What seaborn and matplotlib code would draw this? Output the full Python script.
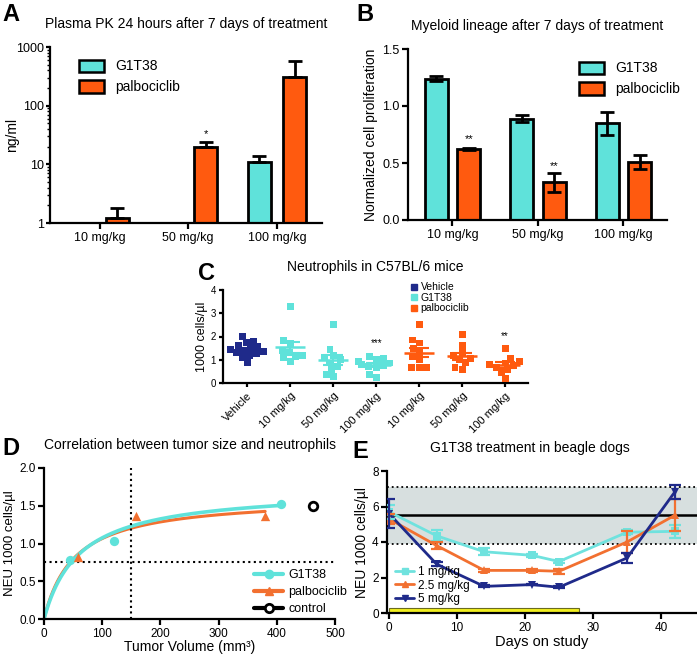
import numpy as np
import pandas as pd
import matplotlib
matplotlib.use("Agg")
import matplotlib.pyplot as plt
import seaborn as sns
from matplotlib.patches import Patch
from matplotlib.lines import Line2D
from matplotlib.ticker import LogLocator, NullFormatter

# ─────────────────────────────────────────────
# Data
# ─────────────────────────────────────────────
DOSES = ["10 mg/kg", "50 mg/kg", "100 mg/kg"]
DRUGS = ["G1T38", "palbociclib"]

# A - plasma PK (ng/ml), mean and upper SEM
PK_G1T38 = [np.nan, np.nan, 11.0]
PK_G1T38_ERR = [np.nan, np.nan, 3.0]
PK_PALBO = [1.2, 20.0, 310.0]
PK_PALBO_ERR = [0.6, 4.0, 260.0]

# B - myeloid proliferation
MY_G1T38 = [1.24, 0.89, 0.85]
MY_G1T38_ERR = [0.02, 0.03, 0.10]
MY_PALBO = [0.62, 0.33, 0.51]
MY_PALBO_ERR = [0.01, 0.08, 0.06]

# C - neutrophils per mouse (1000 cells/ul)
C_KEYS = ["veh", "g10", "g50", "g100", "p10", "p50", "p100"]
C_LABELS = ["Vehicle", "10 mg/kg", "50 mg/kg", "100 mg/kg",
            "10 mg/kg", "50 mg/kg", "100 mg/kg"]
C_DRUG = ["Vehicle", "G1T38", "G1T38", "G1T38",
          "palbociclib", "palbociclib", "palbociclib"]
NEU_VEH = [2.0, 1.8, 1.75, 1.6, 1.55, 1.5, 1.45, 1.4, 1.35, 1.3, 1.25, 1.2, 1.1, 0.88]
NEU_G10 = [3.3, 1.84, 1.7, 1.4, 1.3, 1.17, 1.13, 1.09, 0.93]
NEU_G50 = [2.5, 1.44, 1.17, 1.08, 1.0, 0.86, 0.72, 0.57, 0.35, 0.28]
NEU_G100 = [1.13, 1.05, 1.0, 0.93, 0.86, 0.78, 0.74, 0.71, 0.68, 0.35, 0.25]
NEU_P10 = [2.5, 1.85, 1.72, 1.5, 1.3, 1.15, 1.0, 0.65, 0.65, 0.65]
NEU_P50 = [2.07, 1.63, 1.33, 1.17, 1.07, 1.0, 0.86, 0.65, 0.6]
NEU_P100 = [1.5, 1.07, 0.93, 0.86, 0.78, 0.74, 0.68, 0.57, 0.45, 0.2]
C_STARS = {"g100": ("***", 1.7), "p100": ("**", 2.0)}

# D - tumor volume vs neutrophils
D_G1T38_X = [45, 120, 408]
D_G1T38_Y = [0.78, 1.03, 1.52]
D_PALBO_X = [58, 158, 380]
D_PALBO_Y = [0.82, 1.36, 1.36]
D_CONTROL_X = [463]
D_CONTROL_Y = [1.5]
FIT_G1T38 = (1.73, 61.0)   # Bmax, Kd of one-site fit
FIT_PALBO = (1.62, 52.0)
TUMOR_CUTOFF = 150
NEU_CUTOFF = 0.75

# E - beagle dogs
E_DAYS = [0, 7, 14, 21, 25, 35, 42]
E_DOSES = ["1 mg/kg", "2.5 mg/kg", "5 mg/kg"]
E_1MG = [5.7, 4.35, 3.45, 3.25, 2.9, 4.55, 4.6]
E_1MG_ERR = [0.4, 0.3, 0.2, 0.1, 0.1, 0.1, 0.35]
E_25MG = [5.3, 3.8, 2.4, 2.4, 2.35, 4.0, 5.5]
E_25MG_ERR = [0.3, 0.2, 0.1, 0.1, 0.15, 0.6, 0.9]
E_5MG = [5.6, 2.75, 1.5, 1.6, 1.45, 3.1, 6.8]
E_5MG_ERR = [0.8, 0.1, 0.05, 0.05, 0.05, 0.3, 0.4]
NORMAL_RANGE = (3.9, 7.1)
NORMAL_MEAN = 5.5
TREATMENT_DAYS = (0, 28)

# ─────────────────────────────────────────────
# Style
# ─────────────────────────────────────────────
CYAN = "#5FE2DA"
ORANGE = "#FF5A0F"
ORANGE_L = "#F27030"
NAVY = "#1F2A8A"
BAND = "#D7DFDF"
YELLOW = "#F2F020"

sns.set_theme(style="ticks")
plt.rcParams["font.family"] = ["Liberation Sans", "DejaVu Sans"]
plt.rcParams.update({
    "axes.linewidth": 1.6,
    "xtick.major.width": 1.6, "ytick.major.width": 1.6,
    "xtick.major.size": 4, "ytick.major.size": 4,
    "xtick.major.pad": 2.5, "ytick.major.pad": 2,
    "axes.edgecolor": "black",
    "xtick.color": "black", "ytick.color": "black",
    "text.color": "black", "axes.labelcolor": "black",
})

fig = plt.figure(figsize=(6.97, 6.55), dpi=100)


def fpos(left, top, right, bottom):
    W, H = 697, 655
    return [left / W, 1 - bottom / H, (right - left) / W, (bottom - top) / H]


def prism(ax):
    sns.despine(ax=ax)
    ax.tick_params(axis="both", colors="black")


# ─────────────────────────────────────────────
# A - Plasma PK
# ─────────────────────────────────────────────
axA = fig.add_axes(fpos(50, 47, 322, 223))
dfA = pd.DataFrame({
    "dose": DOSES * 2,
    "drug": ["G1T38"] * 3 + ["palbociclib"] * 3,
    "value": PK_G1T38 + PK_PALBO,
}).dropna()
sns.barplot(data=dfA, x="dose", y="value", hue="drug", order=DOSES,
            hue_order=DRUGS, palette=[CYAN, ORANGE], width=0.8, gap=0.35,
            saturation=1, edgecolor="black", linewidth=2, errorbar=None, ax=axA)
axA.set_yscale("log")
for vals, errs, off in [(PK_G1T38, PK_G1T38_ERR, -0.2), (PK_PALBO, PK_PALBO_ERR, 0.2)]:
    x = np.arange(len(DOSES)) + off
    v = np.array(vals)
    e = np.array(errs)
    ok = ~np.isnan(v)
    axA.errorbar(x[ok], v[ok], yerr=[np.zeros(ok.sum()), e[ok]], fmt="none",
                 ecolor="black", elinewidth=2, capsize=5, capthick=2)
axA.text(1.2, 27, "*", ha="center", va="bottom", fontsize=8)
axA.set_ylim(1, 1000)
axA.set_xlim(-0.56, 2.51)
axA.set_yticks([1, 10, 100, 1000])
axA.set_yticklabels(["1", "10", "100", "1000"])
axA.yaxis.set_minor_locator(LogLocator(base=10, subs=np.arange(2, 10)))
axA.yaxis.set_minor_formatter(NullFormatter())
axA.tick_params(axis="y", which="minor", length=2.5, width=1.0, color="black", left=True)
axA.tick_params(axis="y", which="major", length=3, pad=1)
axA.set_xlabel("")
axA.set_ylabel("ng/ml", fontsize=10)
axA.yaxis.set_label_coords(-0.112, 0.5)
axA.tick_params(axis="both", which="major", labelsize=9)
axA.set_title("Plasma PK 24 hours after 7 days of treatment", fontsize=10, pad=14)
axA.legend(handles=[Patch(facecolor=CYAN, edgecolor="black", linewidth=1.8, label="G1T38"),
                    Patch(facecolor=ORANGE, edgecolor="black", linewidth=1.8, label="palbociclib")],
           loc="upper left", bbox_to_anchor=(0.06, 1.0), frameon=False, fontsize=10,
           handlelength=1.8, handleheight=1.0, labelspacing=0.5)
prism(axA)

# ─────────────────────────────────────────────
# B - Myeloid lineage
# ─────────────────────────────────────────────
axB = fig.add_axes(fpos(408, 49, 667, 220))
dfB = pd.DataFrame({
    "dose": DOSES * 2,
    "drug": ["G1T38"] * 3 + ["palbociclib"] * 3,
    "value": MY_G1T38 + MY_PALBO,
})
sns.barplot(data=dfB, x="dose", y="value", hue="drug", order=DOSES,
            hue_order=DRUGS, palette=[CYAN, ORANGE], width=0.76, gap=0.3,
            saturation=1, edgecolor="black", linewidth=2, errorbar=None, ax=axB)
for vals, errs, off in [(MY_G1T38, MY_G1T38_ERR, -0.19), (MY_PALBO, MY_PALBO_ERR, 0.19)]:
    axB.errorbar(np.arange(len(DOSES)) + off, vals, yerr=errs, fmt="none",
                 ecolor="black", elinewidth=2, capsize=5, capthick=2)
axB.text(0.19, 0.67, "**", ha="center", va="bottom", fontsize=8)
axB.text(1.19, 0.43, "**", ha="center", va="bottom", fontsize=8)
axB.set_ylim(0, 1.5)
axB.set_xlim(-0.52, 2.51)
axB.set_yticks([0.0, 0.5, 1.0, 1.5])
axB.set_yticklabels(["0.0", "0.5", "1.0", "1.5"])
axB.set_xlabel("")
axB.set_ylabel("Normalized cell proliferation", fontsize=10, labelpad=3)
axB.tick_params(axis="both", labelsize=9)
axB.set_title("Myeloid lineage after 7 days of treatment", fontsize=10, pad=14)
axB.legend(handles=[Patch(facecolor=CYAN, edgecolor="black", linewidth=1.8, label="G1T38"),
                    Patch(facecolor=ORANGE, edgecolor="black", linewidth=1.8, label="palbociclib")],
           loc="upper right", bbox_to_anchor=(1.1, 1.0), frameon=False, fontsize=10,
           handlelength=1.8, handleheight=1.0, labelspacing=0.5)
prism(axB)

# ─────────────────────────────────────────────
# C - Neutrophils in mice
# ─────────────────────────────────────────────
axC = fig.add_axes(fpos(223, 290, 528, 383))
neu_lists = [NEU_VEH, NEU_G10, NEU_G50, NEU_G100, NEU_P10, NEU_P50, NEU_P100]
rows = []
for key, drug, vals in zip(C_KEYS, C_DRUG, neu_lists):
    for v in vals:
        rows.append({"group": key, "drug": drug, "value": v})
dfC = pd.DataFrame(rows)
c_pal = {"Vehicle": NAVY, "G1T38": CYAN, "palbociclib": ORANGE}
sns.swarmplot(data=dfC, x="group", y="value", hue="drug", order=C_KEYS,
              palette=c_pal, marker="s", size=5, linewidth=0, legend=False, ax=axC)
stats = dfC.groupby("group")["value"].agg(["mean", "sem"]).reindex(C_KEYS)
for i, key in enumerate(C_KEYS):
    col = c_pal[C_DRUG[i]]
    m, s = stats.loc[key, "mean"], stats.loc[key, "sem"]
    axC.hlines(m, i - 0.35, i + 0.35, color=col, lw=1.8, zorder=4)
    axC.errorbar(i, m, yerr=s, fmt="none", ecolor=col, elinewidth=1.5,
                 capsize=7, capthick=1.5, zorder=4)
for key, (txt, yv) in C_STARS.items():
    axC.text(C_KEYS.index(key), yv, txt, ha="center", va="center", fontsize=7)
axC.set_ylim(0, 4)
axC.set_xlim(-0.56, 6.53)
axC.set_yticks([0, 1, 2, 3, 4])
axC.set_xticks(range(len(C_KEYS)))
axC.set_xticklabels(C_LABELS, rotation=45, ha="right", rotation_mode="anchor", fontsize=8)
axC.tick_params(axis="y", labelsize=7, length=3)
axC.tick_params(axis="x", length=3)
axC.set_xlabel("")
axC.set_ylabel("1000 cells/\u00b5l", fontsize=9, labelpad=2)
axC.set_title("Neutrophils in C57BL/6 mice", fontsize=10, pad=14)
axC.legend(handles=[Line2D([], [], ls="none", marker="s", ms=4, color=c, label=l)
                    for l, c in c_pal.items()],
           loc="upper left", bbox_to_anchor=(0.6, 1.14), frameon=False, fontsize=7.5,
           handlelength=0.6, handletextpad=0.3, labelspacing=0.05, borderpad=0)
prism(axC)

# ─────────────────────────────────────────────
# D - Correlation
# ─────────────────────────────────────────────
axD = fig.add_axes(fpos(44, 468, 335, 619))
xg = np.linspace(0, max(D_G1T38_X), 200)
xp = np.linspace(0, max(D_PALBO_X), 200)
sns.lineplot(x=xp, y=FIT_PALBO[0] * xp / (FIT_PALBO[1] + xp), color=ORANGE_L, lw=2.2, ax=axD)
sns.lineplot(x=xg, y=FIT_G1T38[0] * xg / (FIT_G1T38[1] + xg), color=CYAN, lw=2.6, ax=axD)
sns.scatterplot(x=D_G1T38_X, y=D_G1T38_Y, color=CYAN, marker="o", s=45, linewidth=0, ax=axD, zorder=5)
sns.scatterplot(x=D_PALBO_X, y=D_PALBO_Y, color=ORANGE_L, marker="^", s=45, linewidth=0, ax=axD, zorder=5)
sns.scatterplot(x=D_CONTROL_X, y=D_CONTROL_Y, facecolor="white", edgecolor="black",
                marker="o", s=38, linewidth=2, ax=axD, zorder=5)
axD.axvline(TUMOR_CUTOFF, color="black", ls=":", lw=1.5)
axD.axhline(NEU_CUTOFF, color="black", ls=":", lw=1.5)
axD.set_xlim(0, 500)
axD.set_ylim(0, 2.0)
axD.set_yticks([0.0, 0.5, 1.0, 1.5, 2.0])
axD.set_yticklabels(["0.0", "0.5", "1.0", "1.5", "2.0"])
axD.tick_params(axis="both", labelsize=8.5)
axD.set_xlabel("Tumor Volume (mm\u00b3)", fontsize=10, labelpad=0)
axD.set_ylabel("NEU 1000 cells/\u00b5l", fontsize=9.5, labelpad=2)
axD.set_title("Correlation between tumor size and neutrophils", fontsize=10, pad=14)
axD.legend(handles=[
    Line2D([], [], color=CYAN, lw=3, marker="o", ms=6, label="G1T38"),
    Line2D([], [], color=ORANGE_L, lw=3, marker="^", ms=6, label="palbociclib"),
    Line2D([], [], color="black", lw=3, marker="o", ms=6, mfc="white", mew=2, label="control"),
], loc="lower right", bbox_to_anchor=(1.08, -0.05), frameon=False, fontsize=9,
    handlelength=2.3, handletextpad=0.4, labelspacing=0.4)
prism(axD)

# ─────────────────────────────────────────────
# E - Beagle dogs
# ─────────────────────────────────────────────
axE = fig.add_axes(fpos(387, 471, 697, 613))
axE.axhspan(NORMAL_RANGE[0], NORMAL_RANGE[1], color=BAND, lw=0, zorder=0)
for yb in NORMAL_RANGE:
    axE.axhline(yb, color="black", ls=":", lw=1.3, zorder=1)
axE.axhline(NORMAL_MEAN, color="black", lw=1.8, zorder=1)
axE.barh(0.14, TREATMENT_DAYS[1] - TREATMENT_DAYS[0], height=0.28, left=TREATMENT_DAYS[0],
         color=YELLOW, edgecolor="#6B6B20", linewidth=0.8, zorder=2)
dfE = pd.DataFrame({
    "day": E_DAYS * 3,
    "dose": [d for d in E_DOSES for _ in E_DAYS],
    "neu": E_1MG + E_25MG + E_5MG,
})
e_pal = {"1 mg/kg": "#6FE2DE", "2.5 mg/kg": ORANGE_L, "5 mg/kg": NAVY}
e_mark = {"1 mg/kg": "s", "2.5 mg/kg": "^", "5 mg/kg": "v"}
sns.lineplot(data=dfE, x="day", y="neu", hue="dose", style="dose", hue_order=E_DOSES,
             palette=e_pal, markers=e_mark, dashes=False, lw=2, markersize=6,
             markeredgewidth=0, legend=False, ax=axE, zorder=3)
for dose, vals, errs in [("1 mg/kg", E_1MG, E_1MG_ERR), ("2.5 mg/kg", E_25MG, E_25MG_ERR),
                         ("5 mg/kg", E_5MG, E_5MG_ERR)]:
    axE.errorbar(E_DAYS, vals, yerr=errs, fmt="none", ecolor=e_pal[dose], elinewidth=1.6,
                 capsize=4, capthick=1.6, zorder=3)
axE.set_xlim(-0.3, 45.3)
axE.set_ylim(0, 8)
axE.set_yticks([0, 2, 4, 6, 8])
axE.set_xticks([0, 10, 20, 30, 40])
axE.tick_params(axis="both", labelsize=8.5)
axE.set_xlabel("Days on study", fontsize=10.5, labelpad=1)
axE.set_ylabel("NEU 1000 cells/\u00b5l", fontsize=10, labelpad=2)
axE.set_title("G1T38 treatment in beagle dogs", fontsize=10, pad=14, x=0.46)
axE.legend(handles=[Line2D([], [], color=e_pal[d], lw=2, marker=e_mark[d], ms=5, label=d)
                    for d in E_DOSES],
           loc="lower left", bbox_to_anchor=(0.0, 0.0), frameon=False, fontsize=8.5,
           handlelength=1.6, handletextpad=0.3, labelspacing=0.1, borderpad=0.2)
prism(axE)

# ─────────────────────────────────────────────
# Panel letters
# ─────────────────────────────────────────────
for lab, x, y in [("A", 2, 3), ("B", 356, 3), ("C", 198, 262), ("D", 2, 437), ("E", 352, 440)]:
    fig.text(x / 697, 1 - y / 655, lab, fontsize=17, fontweight="bold", ha="left", va="top")

fig.savefig("out.png", dpi=100)
